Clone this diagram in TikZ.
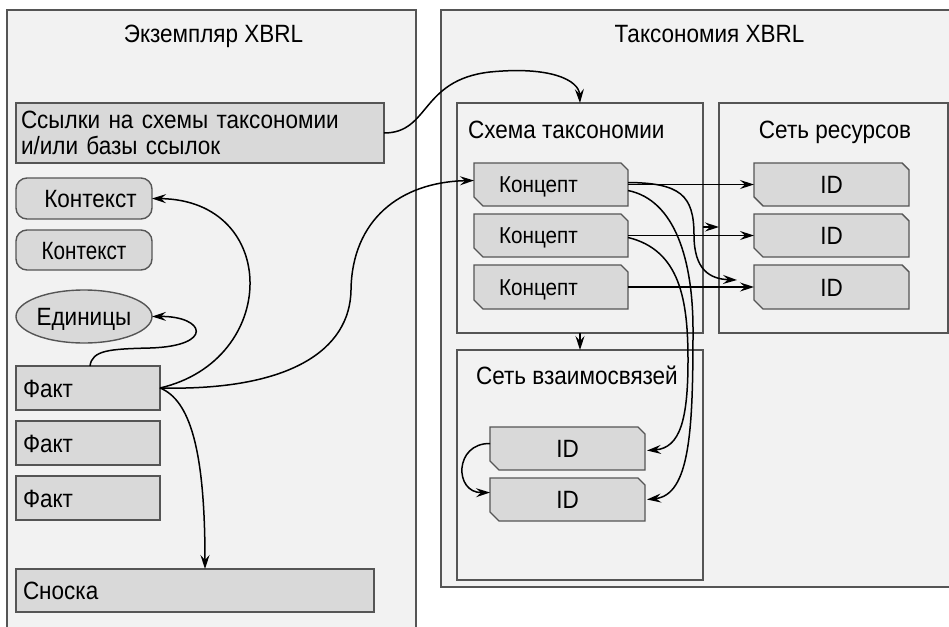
\documentclass[tikz,border=0pt]{standalone}
\usepackage{fontspec}
\setmainfont[FakeStretch=0.9]{Liberation Sans}
\usepackage{graphicx}
\usetikzlibrary{arrows.meta,shapes.geometric}
\makeatletter
\pgfdeclareshape{chambox}{
  \inheritsavedanchors[from=rectangle]
  \inheritanchorborder[from=rectangle]
  \inheritanchor[from=rectangle]{center}
  \inheritanchor[from=rectangle]{north}
  \inheritanchor[from=rectangle]{south}
  \inheritanchor[from=rectangle]{east}
  \inheritanchor[from=rectangle]{west}
  \inheritanchor[from=rectangle]{north east}
  \inheritanchor[from=rectangle]{north west}
  \inheritanchor[from=rectangle]{south east}
  \inheritanchor[from=rectangle]{south west}
  \inheritanchor[from=rectangle]{mid}
  \inheritanchor[from=rectangle]{base}
  \backgroundpath{
    \southwest \pgf@xa=\pgf@x \pgf@ya=\pgf@y
    \northeast \pgf@xb=\pgf@x \pgf@yb=\pgf@y
    \pgfpathmoveto{\pgfqpoint{\pgf@xa}{\pgf@yb}}
    \pgf@xc=\pgf@xb \advance\pgf@xc by -7pt
    \pgfpathlineto{\pgfqpoint{\pgf@xc}{\pgf@yb}}
    \pgf@yc=\pgf@yb \advance\pgf@yc by -7pt
    \pgfpathlineto{\pgfqpoint{\pgf@xb}{\pgf@yc}}
    \pgfpathlineto{\pgfqpoint{\pgf@xb}{\pgf@ya}}
    \pgf@xc=\pgf@xa \advance\pgf@xc by 9pt
    \pgfpathlineto{\pgfqpoint{\pgf@xc}{\pgf@ya}}
    \pgf@yc=\pgf@ya \advance\pgf@yc by 9pt
    \pgfpathlineto{\pgfqpoint{\pgf@xa}{\pgf@yc}}
    \pgfpathclose
  }
}
\makeatother
\definecolor{bgc}{HTML}{F2F2F2}
\definecolor{boxc}{HTML}{D9D9D9}
\definecolor{edgec}{HTML}{555555}
\begin{document}
\begin{tikzpicture}[x=1pt,y=-1pt,
  container/.style={draw=edgec,fill=bgc,line width=1.4pt,anchor=north west,inner sep=0pt,outer sep=0pt},
  box/.style={draw=edgec,fill=boxc,line width=1.4pt,anchor=north west,outer sep=0pt,font=\fontsize{25}{26}\selectfont},
  oneline/.style={text height=18pt,text depth=0pt},
  titletext/.style={inner sep=0pt,font=\fontsize{25}{26}\selectfont,text height=18pt,text depth=0pt},
  cbox/.style={box,chambox,minimum width=154pt,minimum height=43pt,text width=104pt,inner xsep=25pt,align=left,font=\fontsize{23}{24}\selectfont,text height=16.5pt,text depth=0pt},
  idbox/.style={box,chambox,minimum width=155pt,minimum height=43pt,oneline},
  factbox/.style={box,minimum width=144pt,minimum height=44pt,text width=130pt,align=left,inner xsep=7pt,oneline},
  arr/.style={-{Stealth[length=14pt,width=9pt,inset=5pt]},line width=1.5pt,black},
]
\useasboundingbox (0,0) rectangle (949,626);
\clip (0,0) rectangle (949,626);
% containers
\node[container,minimum width=409pt,minimum height=630pt] (inst) at (7,10) {};
\node[container,minimum width=520pt,minimum height=577pt] (tax) at (441,10) {};
\node[titletext] (instT) at (213.5,34) {Экземпляр XBRL};
\node[titletext] (taxT) at (709.5,34) {Таксономия XBRL};
% left column
\node[box,minimum width=368pt,minimum height=60pt,text width=358pt,align=left,inner xsep=5pt] (refs) at (16,103) {Ссылки на схемы таксономии\\и/или базы ссылок};
\node[box,rounded corners=11pt,minimum width=136pt,minimum height=41pt,oneline] (ctx1) at (16,178) {\hspace*{13pt}Контекст};
\node[box,rounded corners=11pt,minimum width=136pt,minimum height=40pt,oneline] (ctx2) at (16,230) {\scalebox{0.92}[1]{Контекст}};
\node[box,ellipse,anchor=center,minimum width=136pt,minimum height=53pt,inner sep=0pt,oneline] (units) at (84,316.5) {Единицы};
\node[factbox] (fact1) at (16,366) {Факт};
\node[factbox] (fact2) at (16,421) {Факт};
\node[factbox] (fact3) at (16,476) {Факт};
\node[box,minimum width=358pt,minimum height=43pt,text width=344pt,align=left,inner xsep=7pt,oneline] (note) at (16,569) {Сноска};
% right side
\node[container,minimum width=246pt,minimum height=230pt] (schema) at (457,103) {};
\node[container,minimum width=229pt,minimum height=230pt] (res) at (719,103) {};
\node[container,minimum width=246pt,minimum height=230pt] (rel) at (457,350) {};
\node[titletext,anchor=west] (schemaT) at (468,129) {Схема таксономии};
\node[titletext] (resT) at (835,129) {Сеть ресурсов};
\node[titletext] (relT) at (577,375) {Сеть взаимосвязей};
\node[cbox] (c1) at (474,163) {Концепт};
\node[cbox] (c2) at (474,214) {Концепт};
\node[cbox,minimum height=44pt] (c3) at (474,265) {Концепт};
\node[idbox] (id1) at (754,163) {ID};
\node[idbox] (id2) at (754,214) {ID};
\node[idbox,minimum height=44pt] (id3) at (754,265) {ID};
\node[idbox] (rid1) at (490,427) {ID};
\node[idbox] (rid2) at (490,478) {ID};
% connectors
\draw[arr] (refs.east) .. controls (430,133) and (420,80) .. (490,72) .. controls (550,66) and (579,80) .. (schema.north);
\draw[arr] (fact1.east) .. controls (280,360) and (280,200) .. (ctx1.east);
\draw[arr] ([xshift=2pt]fact1.north) .. controls (92,350) and (110,349) .. (150,348) .. controls (215,346) and (205,316) .. (units.east);
\draw[arr] (fact1.east) .. controls (290,391) and (350,350) .. (351,290) .. controls (352,220) and (400,182) .. ([yshift=4pt]c1.west);
\draw[arr] (fact1.east) .. controls (190,400) and (205,450) .. ([xshift=10pt]note.north);
\draw[arr] (c1.east) -- (id1.west);
\draw[arr] (c2.east) -- (id2.west);
\draw[arr] (c3.east) -- (id3.west);
\draw[arr] ([yshift=2pt]c1.east) .. controls (680,183) and (694,195) .. (694,235) .. controls (694,270) and (710,279) .. ([xshift=-17pt,yshift=7pt]id3.west);
\draw[arr] ([yshift=-6pt]c1.east) .. controls (675,200) and (693,260) .. (693,330) .. controls (693,430) and (690,495) .. ([xshift=2pt]rid2.east);
\draw[arr] ([yshift=-2pt]c2.east) .. controls (680,250) and (688,300) .. (688,360) .. controls (688,420) and (680,448) .. ([xshift=2pt,yshift=-2pt]rid1.east);
\draw[arr] ([yshift=-9pt]schema.east) -- ([yshift=-9pt]res.west);
\draw[arr] (schema.south) -- (rel.north);
\draw[arr] ([yshift=5pt]rid1.west) .. controls (454,443) and (454,493) .. ([yshift=7pt]rid2.west);
\end{tikzpicture}
\end{document}
